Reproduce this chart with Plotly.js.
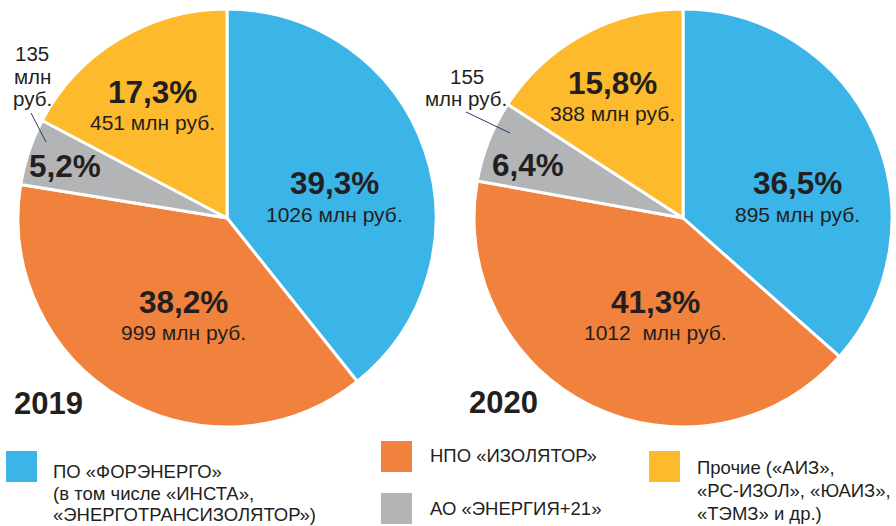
<!DOCTYPE html>
<html>
<head>
<meta charset="utf-8">
<script src="https://cdn.plot.ly/plotly-3.0.1.min.js"></script>
<style>
html,body{margin:0;padding:0;background:#fff;}
#chart{width:896px;height:526px;}
</style>
</head>
<body>
<div id="chart"></div>
<script>
// ---- data ----
const years = ['2019', '2020'];
const companies = ['ПО «ФОРЭНЕРГО»', 'НПО «ИЗОЛЯТОР»', 'АО «ЭНЕРГИЯ+21»', 'Прочие'];
const values2019 = [1026, 999, 135, 451];
const values2020 = [895, 1012, 155, 388];
const pct2019 = ['39,3%', '38,2%', '5,2%', '17,3%'];
const pct2020 = ['36,5%', '41,3%', '6,4%', '15,8%'];
const unit = 'млн руб.';
const legendLines = [
  ['ПО «ФОРЭНЕРГО»', '(в том числе «ИНСТА»,', '«ЭНЕРГОТРАНСИЗОЛЯТОР»)'],
  ['НПО «ИЗОЛЯТОР»'],
  ['АО «ЭНЕРГИЯ+21»'],
  ['Прочие («АИЗ»,', '«РС-ИЗОЛ», «ЮАИЗ»,', '«ТЭМЗ» и др.)']
];
const colors = ['#3BB4E7', '#F1823D', '#B3B4B6', '#FDBA2C'];

// ---- helpers ----
const W = 896, H = 526;
const fx = px => px / W;
const fy = py => 1 - py / H;
const FONT = 'Liberation Sans, Arial, sans-serif';
const TXT = '#231f20';

function pieTrace(values, domX) {
  return {
    type: 'pie',
    values: values,
    labels: companies,
    sort: false,
    direction: 'clockwise',
    rotation: 0,
    textinfo: 'none',
    hoverinfo: 'label+value',
    marker: {colors: colors, line: {color: '#ffffff', width: 3}},
    domain: {x: domX, y: [fy(427), fy(9)]},
    showlegend: false
  };
}

const data = [
  pieTrace(values2019, [fx(18), fx(436)]),
  pieTrace(values2020, [fx(474), fx(892)])
];

const annotations = [];
function ann(text, px, py, size, bold, xanchor) {
  annotations.push({
    text: bold ? '<b>' + text + '</b>' : text,
    x: fx(px), y: fy(py), xref: 'paper', yref: 'paper',
    xanchor: xanchor || 'center', yanchor: 'middle',
    showarrow: false, align: xanchor === 'left' ? 'left' : 'center',
    font: {family: FONT, size: size, color: TXT}
  });
}

// 2019 slice labels
const pos2019 = [[334, 183, 214], [183, 302, 332], [65, 166, null], [152, 92, 123]];
pos2019.forEach((p, i) => {
  ann(pct2019[i], p[0], p[1], 31.5, true);
  if (p[2] !== null) ann(values2019[i] + ' ' + unit, p[0], p[2], 21, false);
});
ann(String(values2019[2]), 32, 54, 20.5, false);
ann('млн', 32, 76, 20.5, false);
ann('руб.', 32, 98, 20.5, false);

// 2020 slice labels
const pos2020 = [[797, 183, 214], [655, 302, 332], [528, 165, null], [612, 83, 114]];
pos2020.forEach((p, i) => {
  ann(pct2020[i], p[0], p[1], 31.5, true);
  if (p[2] !== null) ann(values2020[i] + (i === 1 ? '  ' : ' ') + unit, p[0], p[2], 21, false);
});
ann(String(values2020[2]), 467, 76, 20.5, false);
ann(unit, 466, 98, 20.5, false);

// year labels
ann(years[0], 12, 403, 31, true, 'left');
ann(years[1], 467, 402, 31, true, 'left');

// legend
const legendPos = [
  {sq: [6, 451], tx: 51, ty: [471, 493, 514]},
  {sq: [381, 441], tx: 428, ty: [455]},
  {sq: [381, 493], tx: 428, ty: [508]},
  {sq: [649, 451], tx: 695, ty: [467, 490, 513]}
];
const shapes = [];
legendPos.forEach((lp, i) => {
  shapes.push({
    type: 'rect', xref: 'paper', yref: 'paper',
    x0: fx(lp.sq[0]), x1: fx(lp.sq[0] + 31), y0: fy(lp.sq[1] + 31), y1: fy(lp.sq[1]),
    fillcolor: colors[i], line: {width: 0}
  });
  legendLines[i].forEach((t, j) => ann(t, lp.tx, lp.ty[j], 18.5, false, 'left'));
});

// leader lines
shapes.push({type: 'line', xref: 'paper', yref: 'paper',
  x0: fx(31), y0: fy(113), x1: fx(46), y1: fy(142), line: {color: '#2b3a67', width: 1}});
shapes.push({type: 'line', xref: 'paper', yref: 'paper',
  x0: fx(466), y0: fy(112), x1: fx(510), y1: fy(133), line: {color: '#2b3a67', width: 1}});

const layout = {
  width: W, height: H,
  margin: {l: 0, r: 0, t: 0, b: 0},
  paper_bgcolor: '#ffffff',
  showlegend: false,
  annotations: annotations,
  shapes: shapes,
  font: {family: FONT, color: TXT}
};

Plotly.newPlot('chart', data, layout, {displayModeBar: false, staticPlot: true});
</script>
</body>
</html>
